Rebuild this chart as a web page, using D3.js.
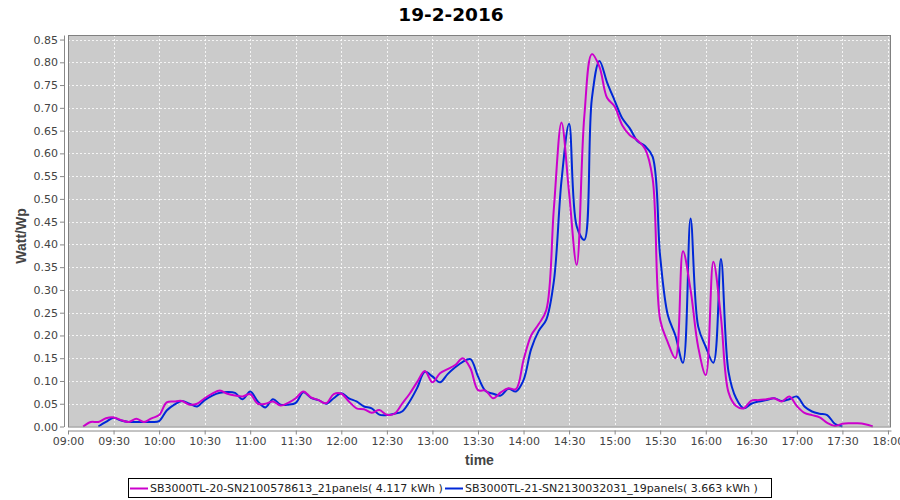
<!DOCTYPE html>
<html>
<head>
<meta charset="utf-8">
<script src="https://cdnjs.cloudflare.com/ajax/libs/d3/7.8.5/d3.min.js"></script>
<style>
  body { margin: 0; background: #fff; }
  svg { display: block; font-family: "DejaVu Sans", sans-serif; }
</style>
</head>
<body>
<div class="chart"></div>
<script>
var title = "19-2-2016"
var seriesNames = ["SB3000TL-20-SN2100578613_21panels( 4.117 kWh )",
                   "SB3000TL-21-SN2130032031_19panels( 3.663 kWh )"]
var colors = ["#cc00cc", "#0028d8"]

// magenta series, 5 minute samples from 09:10
var start1 = "09:10"
var values1 = [0.000,0.010,0.010,0.018,0.020,0.014,0.010,0.017,0.010,0.018,
  0.025,0.053,0.055,0.056,0.048,0.050,0.062,0.072,0.079,0.072,0.068,0.066,
  0.071,0.050,0.050,0.055,0.046,0.052,0.062,0.077,0.064,0.058,0.051,0.071,
  0.072,0.055,0.040,0.038,0.030,0.036,0.026,0.028,0.050,0.072,0.098,0.122,
  0.097,0.117,0.126,0.135,0.150,0.128,0.080,0.079,0.062,0.075,0.084,0.082,
  0.146,0.200,0.225,0.256,0.480,0.668,0.513,0.355,0.680,0.818,0.790,0.722,
  0.703,0.662,0.640,0.629,0.610,0.545,0.234,0.185,0.150,0.385,0.300,0.175,
  0.113,0.362,0.240,0.075,0.045,0.040,0.057,0.058,0.060,0.062,0.055,0.066,
  0.045,0.030,0.025,0.020,0.008,0.001,0.006,0.007,0.007,0.005,0.000]

// blue series, 5 minute samples from 09:20
var start2 = "09:20"
var values2 = [0.000,0.010,0.019,0.013,0.010,0.010,0.010,0.010,0.012,0.035,
  0.048,0.056,0.050,0.044,0.058,0.068,0.074,0.076,0.074,0.060,0.077,0.055,
  0.042,0.060,0.048,0.048,0.052,0.075,0.063,0.058,0.050,0.062,0.073,0.062,
  0.055,0.044,0.040,0.026,0.025,0.028,0.033,0.055,0.085,0.120,0.110,0.097,
  0.115,0.130,0.142,0.148,0.110,0.078,0.072,0.068,0.083,0.077,0.102,0.170,
  0.210,0.235,0.320,0.540,0.665,0.440,0.410,0.720,0.803,0.756,0.716,0.677,
  0.655,0.627,0.616,0.593,0.373,0.245,0.200,0.140,0.457,0.220,0.175,0.140,
  0.368,0.120,0.062,0.040,0.050,0.055,0.058,0.062,0.056,0.060,0.066,0.044,
  0.033,0.028,0.025,0.006,0.000]

var xTicks = ["09:00","09:30","10:00","10:30","11:00","11:30","12:00","12:30","13:00",
              "13:30","14:00","14:30","15:00","15:30","16:00","16:30","17:00","17:30","18:00"]
var yTicks = [0,0.05,0.10,0.15,0.20,0.25,0.30,0.35,0.40,0.45,0.50,0.55,0.60,0.65,0.70,0.75,0.80,0.85]

var width = 900, height = 500
var plot = { left: 68, right: 891, top: 35, bottom: 426.5 }
var parseTime = d3.timeParse("%H:%M")

function toPoints(startLabel, vals) {
  var t0 = parseTime(startLabel)
  return vals.map(function(v, i){ return { t: d3.timeMinute.offset(t0, i*5), v: v } })
}
var series = [toPoints(start1, values1), toPoints(start2, values2)]

var svg = d3.select(".chart").append("svg")
            .attr("width", width)
            .attr("height", height)

var xScale = d3.scaleTime()
               .domain([parseTime("09:00"), d3.timeMinute.offset(parseTime("18:00"), 2.6)])
               .range([plot.left, plot.right])
var yScale = d3.scaleLinear().domain([0, 0.86]).range([plot.bottom, plot.top])

// title
svg.append("text")
   .text(title)
   .attr("x", width/2 + 1)
   .attr("y", 21)
   .attr("text-anchor", "middle")
   .style("font-size", "18.5px")
   .style("font-weight", "bold")
   .style("fill", "#000")

// plot background
svg.append("rect")
   .attr("x", plot.left).attr("y", plot.top)
   .attr("width", plot.right - plot.left)
   .attr("height", plot.bottom - plot.top)
   .style("fill", "#cbcbcb")

// grid
var grid = svg.append("g").attr("class", "grid")
xTicks.forEach(function(d){
  var x = Math.round(xScale(parseTime(d))) + 0.5
  if (x <= plot.left + 1 || x >= plot.right - 1) return
  grid.append("line")
      .attr("x1", x).attr("x2", x)
      .attr("y1", plot.top).attr("y2", plot.bottom)
      .style("stroke", "#fff").style("stroke-width", 0.8)
      .style("stroke-dasharray", "2,2")
})
yTicks.forEach(function(d){
  var y = Math.round(yScale(d)) + 0.5
  if (d == 0) return
  grid.append("line")
      .attr("x1", plot.left).attr("x2", plot.right)
      .attr("y1", y).attr("y2", y)
      .style("stroke", "#fff").style("stroke-width", 0.8)
      .style("stroke-dasharray", "2,2")
})

// lines, first series drawn last so it sits on top
var line = d3.line()
             .x(function(d){ return xScale(d.t) })
             .y(function(d){ return yScale(d.v) })
             .curve(d3.curveCatmullRom.alpha(0.5))
for (var i = series.length - 1; i >= 0; i--) {
  svg.append("path")
     .attr("d", line(series[i]))
     .style("fill", "none")
     .style("stroke", colors[i])
     .style("stroke-width", 2)
}

// plot border
svg.append("rect")
   .attr("x", plot.left + 0.5).attr("y", plot.top + 0.5)
   .attr("width", plot.right - plot.left - 1)
   .attr("height", plot.bottom - plot.top)
   .style("fill", "none")
   .style("stroke", "#808080")

// axes
var xAxis = d3.axisBottom(xScale)
              .tickValues(xTicks.map(parseTime))
              .tickFormat(d3.timeFormat("%H:%M"))
              .tickSize(4).tickSizeOuter(0)
var yAxis = d3.axisLeft(yScale)
              .tickValues(yTicks)
              .tickFormat(d3.format(".2f"))
              .tickSize(4).tickSizeOuter(0)

var gx = svg.append("g")
            .attr("transform", "translate(0," + (plot.bottom + 4) + ")")
            .call(xAxis)
var gy = svg.append("g")
            .attr("transform", "translate(" + (plot.left - 4) + ",0)")
            .call(yAxis)
;[gx, gy].forEach(function(g){
  g.selectAll("path.domain").style("stroke", "#888")
  g.selectAll(".tick line").style("stroke", "#888")
  g.selectAll(".tick text").style("fill", "#444").style("font-size", "11px")
   .style("font-family", "DejaVu Sans")
})
gx.selectAll(".tick text").attr("y", 7)
gy.selectAll(".tick text").attr("x", -6)

svg.append("text")
   .text("time")
   .attr("x", (plot.left + plot.right)/2)
   .attr("y", 465)
   .attr("text-anchor", "middle")
   .style("font-family", "Liberation Sans")
   .style("font-size", "14px").style("font-weight", "bold").style("fill", "#444")
svg.append("text")
   .text("Watt/Wp")
   .attr("transform", "translate(26,236) rotate(-90)")
   .attr("text-anchor", "middle")
   .style("font-family", "Liberation Sans")
   .style("font-size", "14px").style("font-weight", "bold").style("fill", "#444")

// legend
var legend = svg.append("g")
legend.append("rect")
      .attr("x", 128.5).attr("y", 478.5)
      .attr("width", 643)
      .attr("height", 19)
      .style("fill", "#fff").style("stroke", "#000")
var itemX = [130, 445]
seriesNames.forEach(function(d, i){
  legend.append("line")
        .attr("x1", itemX[i]).attr("x2", itemX[i] + 18)
        .attr("y1", 488.5).attr("y2", 488.5)
        .style("stroke", colors[i]).style("stroke-width", 2)
  legend.append("text")
        .text(d)
        .attr("x", itemX[i] + 20)
        .attr("y", 492)
        .style("font-size", "11px").style("fill", "#222")
})
</script>
</body>
</html>
